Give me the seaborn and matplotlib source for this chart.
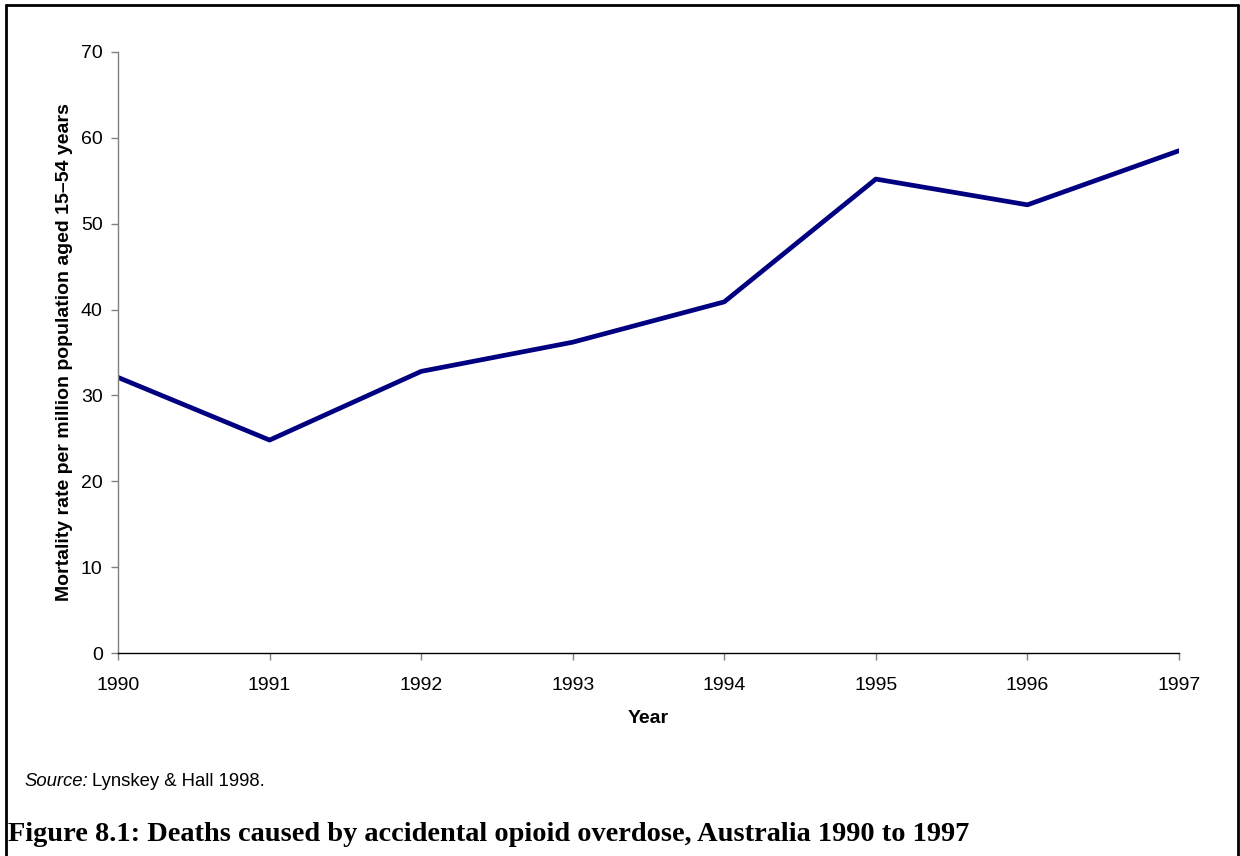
import matplotlib
matplotlib.use('Agg')
import matplotlib.pyplot as plt
import matplotlib.lines as mlines
import pandas as pd
import seaborn as sns

years = [1990, 1991, 1992, 1993, 1994, 1995, 1996, 1997]
mortality = [32.1, 24.8, 32.8, 36.2, 40.9, 55.2, 52.2, 58.5]

df = pd.DataFrame({'Year': years, 'Rate': mortality})

sns.set_style('white')
plt.rcParams['font.family'] = ['Liberation Sans', 'DejaVu Sans']
plt.rcParams['text.color'] = 'black'
plt.rcParams['axes.labelcolor'] = 'black'

fig = plt.figure(figsize=(12.4, 8.56), dpi=100)
ax = fig.add_axes([118 / 1240, 1 - 653 / 856, (1179 - 118) / 1240, (653 - 52) / 856])

sns.lineplot(data=df, x='Year', y='Rate', ax=ax, color='#000080', linewidth=3.4)

ax.set_xlim(1990, 1997)
ax.set_ylim(0, 70)
ax.set_xticks(years)
ax.set_yticks(range(0, 71, 10))
ax.tick_params(axis='both', labelsize=14, length=5, width=1, direction='out',
               colors='#808080', labelcolor='black', left=True, bottom=True)
ax.tick_params(axis='x', pad=12)
ax.tick_params(axis='y', pad=6)

for side in ['top', 'right']:
    ax.spines[side].set_visible(False)
ax.spines['left'].set_color('#808080')
ax.spines['bottom'].set_color('black')
ax.spines['left'].set_linewidth(1)
ax.spines['bottom'].set_linewidth(1)

ax.set_xlabel('Year', fontsize=14, fontweight='bold', labelpad=12)
ax.set_ylabel('Mortality rate per million population aged 15\u201354 years',
              fontsize=14, fontweight='bold', labelpad=6)

src_y = 1 - 782 / 856
src = fig.text(24 / 1240, src_y, 'Source:', fontsize=13.3, va='center', style='italic')
fig.canvas.draw()
bb = src.get_window_extent()
fig.text((bb.x1 + 4) / 1240, src_y, 'Lynskey & Hall 1998.', fontsize=13.3, va='center')

fig.text(8 / 1240, 1 - 841 / 856,
         'Figure 8.1: Deaths caused by accidental opioid overdose, Australia 1990 to 1997',
         fontsize=20.4, fontweight='bold', family=['Liberation Serif', 'DejaVu Serif'],
         va='baseline')

# page frame: top, left and right edges
fig.add_artist(mlines.Line2D([6 / 1240, 1238 / 1240], [1 - 5 / 856, 1 - 5 / 856],
                             color='black', linewidth=2, transform=fig.transFigure))
fig.add_artist(mlines.Line2D([6 / 1240, 6 / 1240], [0, 1 - 5 / 856],
                             color='black', linewidth=2, transform=fig.transFigure))
fig.add_artist(mlines.Line2D([1238 / 1240, 1238 / 1240], [0, 1 - 5 / 856],
                             color='black', linewidth=2, transform=fig.transFigure))

fig.savefig('out.png', dpi=100)
